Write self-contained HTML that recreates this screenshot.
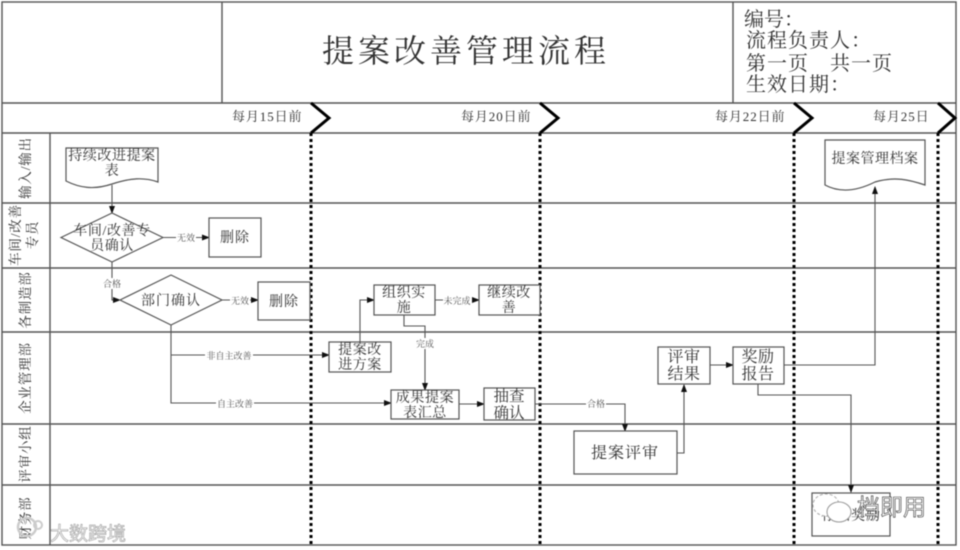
<!DOCTYPE html>
<html><head><meta charset="utf-8">
<style>
html,body{margin:0;padding:0;background:#fff;width:960px;height:550px;overflow:hidden}
svg{display:block;filter:blur(0.45px)}
text{font-family:"Liberation Serif","Noto Serif CJK SC",serif;fill:#333}
.c{text-anchor:middle}
.b{font-size:14px;letter-spacing:.6px}
.m{font-size:14px;letter-spacing:1px}
.l{font-size:16px;letter-spacing:1px}
.d{font-size:13px;letter-spacing:.9px}
.v{font-size:13.500px;letter-spacing:.8px}
.h{font-size:20px;letter-spacing:1px}
.s{font-size:9px;fill:#555}
.box{fill:#fff;stroke:#555;stroke-width:1.2}
.ln{fill:none;stroke:#555;stroke-width:1.1}
.gr{stroke:#555;stroke-width:1.4;fill:none}
.dot{stroke:#000;stroke-width:3;stroke-dasharray:3 3;fill:none}
.chev{stroke:#000;stroke-width:3;fill:none}
.lab{fill:#fff}
.wm{font-family:"Liberation Sans","Noto Sans CJK SC",sans-serif;fill:#fff;stroke:#888;stroke-width:.7}
</style></head><body>
<svg width="960" height="550" viewBox="0 0 960 550" xmlns="http://www.w3.org/2000/svg">
<defs><marker id="a" markerWidth="8" markerHeight="6" refX="7" refY="3" orient="auto" markerUnits="userSpaceOnUse"><path d="M0 0L8 3L0 6Z" fill="#111"/></marker></defs>
<rect width="960" height="550" fill="#fff"/>
<!-- grid -->
<rect class="gr" x="2" y="2" width="954" height="543"/>
<path class="gr" d="M222 2V103M733 2V103M2 103H956M2 133H956M2 203H956M2 268H956M2 332H956M2 424H956M2 485H956M50 133V545"/>
<path class="dot" d="M311 133V545M540 133V545M794 133V545M938 133V545"/>
<path class="chev" d="M311 103L329 118L311 133M540 103L558 118L540 133M794 103L812 118L794 133M938 103L955 118L938 133"/>
<!-- header -->
<text x="322" y="62" font-size="32" letter-spacing="4">提案改善管理流程</text>
<text x="744" y="26" style="font-size:20px">编号：</text>
<text x="746" y="47" class="h">流程负责人：</text>
<text x="746" y="70" class="h">第一页　共一页</text>
<text x="746" y="91" class="h">生效日期：</text>
<text x="232" y="121" class="d">每月15日前</text>
<text x="461" y="121" class="d">每月20日前</text>
<text x="715" y="121" class="d">每月22日前</text>
<text x="873" y="121" class="d">每月25日</text>
<!-- lane labels -->
<text transform="translate(30,168) rotate(-90)" class="c v">输入/输出</text>
<text transform="translate(20,235) rotate(-90)" class="c v">车间/改善</text>
<text transform="translate(37,235) rotate(-90)" class="c v">专员</text>
<text transform="translate(30,300) rotate(-90)" class="c v">各制造部</text>
<text transform="translate(30,378) rotate(-90)" class="c v">企业管理部</text>
<text transform="translate(30,454) rotate(-90)" class="c v">评审小组</text>
<text transform="translate(30,518) rotate(-90)" class="c v">财务部</text>
<!-- connectors -->
<path class="ln" d="M112 185V213" marker-end="url(#a)"/>
<path class="ln" d="M163 237.500H209" marker-end="url(#a)"/>
<path class="ln" d="M112 262V300H120" marker-end="url(#a)"/>
<path class="ln" d="M222 300H258" marker-end="url(#a)"/>
<path class="ln" d="M171 325V403H391" marker-end="url(#a)"/>
<path class="ln" d="M171 355H329" marker-end="url(#a)"/>
<path class="ln" d="M360 342V300H374" marker-end="url(#a)"/>
<path class="ln" d="M435 300H479" marker-end="url(#a)"/>
<path class="ln" d="M404 315V326H425V390" marker-end="url(#a)"/>
<path class="ln" d="M459 404H484" marker-end="url(#a)"/>
<path class="ln" d="M535 404H625V431" marker-end="url(#a)"/>
<path class="ln" d="M677 453H684V385" marker-end="url(#a)"/>
<path class="ln" d="M710 365H733" marker-end="url(#a)"/>
<path class="ln" d="M784 365H875V187" marker-end="url(#a)"/>
<path class="ln" d="M758 384V395H851V492" marker-end="url(#a)"/>
<!-- connector labels -->
<rect class="lab" x="176" y="232" width="20" height="11"/><text x="186" y="241" class="c s">无效</text>
<rect class="lab" x="102" y="278" width="20" height="11"/><text x="112" y="287" class="c s">合格</text>
<rect class="lab" x="230" y="295" width="20" height="11"/><text x="240" y="304" class="c s">无效</text>
<rect class="lab" x="205" y="350" width="48" height="11"/><text x="229" y="359" class="c s">非自主改善</text>
<rect class="lab" x="216" y="398" width="38" height="11"/><text x="235" y="407" class="c s">自主改善</text>
<rect class="lab" x="443" y="295" width="29" height="11"/><text x="457" y="304" class="c s">未完成</text>
<rect class="lab" x="415" y="338" width="20" height="11"/><text x="425" y="347" class="c s">完成</text>
<rect class="lab" x="586" y="399" width="20" height="11"/><text x="596" y="407" class="c s">合格</text>
<!-- nodes -->
<path class="box" d="M66 148H158V182C144 177 130 178 112 184C94 190 80 188 66 181Z"/>
<text x="112" y="160" class="c b">持续改进提案</text><text x="112" y="175" class="c b">表</text>
<path class="box" d="M61 237.500L112 213L163 237.500L112 262Z"/>
<text x="112" y="235" class="c b">车间/改善专</text><text x="112" y="250" class="c b">员确认</text>
<rect class="box" x="209" y="218" width="52" height="39"/><text x="235" y="242" class="c m">删除</text>
<path class="box" d="M120 300L171 275L222 300L171 325Z"/>
<text x="171" y="305" class="c m">部门确认</text>
<rect class="box" x="258" y="282" width="52" height="38"/><text x="284" y="306" class="c m">删除</text>
<rect class="box" x="329" y="342" width="62" height="30"/>
<text x="360" y="354" class="c b">提案改</text><text x="360" y="369" class="c b">进方案</text>
<rect class="box" x="374" y="285" width="61" height="30"/>
<text x="404" y="297" class="c b">组织实</text><text x="404" y="312" class="c b">施</text>
<rect class="box" x="479" y="285" width="61" height="30"/>
<text x="509" y="297" class="c b">继续改</text><text x="509" y="312" class="c b">善</text>
<rect class="box" x="391" y="390" width="68" height="29"/>
<text x="425" y="402" class="c b">成果提案</text><text x="425" y="417" class="c b">表汇总</text>
<rect class="box" x="484" y="388" width="51" height="32"/>
<text x="509" y="401" class="c" font-size="15.500">抽查</text><text x="509" y="418" class="c" font-size="15.500">确认</text>
<rect class="box" x="574" y="431" width="103" height="43"/>
<text x="625" y="458" class="c l">提案评审</text>
<rect class="box" x="658" y="347" width="52" height="37"/>
<text x="684" y="362" class="c l" style="letter-spacing:.5px">评审</text><text x="684" y="379" class="c l" style="letter-spacing:.5px">结果</text>
<rect class="box" x="733" y="347" width="51" height="37"/>
<text x="758" y="362" class="c l" style="letter-spacing:.5px">奖励</text><text x="758" y="379" class="c l" style="letter-spacing:.5px">报告</text>
<path class="box" d="M825 140H925V185C910 180 895 176 875 182C855 192 838 192 825 185Z"/>
<text x="875" y="163" class="c" style="font-size:14px;letter-spacing:.5px">提案管理档案</text>
<rect class="box" x="812" y="493" width="78" height="43"/>
<text x="851" y="520" class="c m">存档奖励</text>
<!-- watermarks -->
<ellipse cx="826" cy="505" rx="13" ry="11" fill="#fff" stroke="#aaa" stroke-dasharray="3 2"/>
<ellipse cx="839" cy="512" rx="12" ry="10" fill="#fff" stroke="#999"/>
<text x="857" y="515" font-size="23" class="wm" style="fill:#fff;stroke:#333;stroke-width:.6">档即用</text>
<circle cx="27" cy="527" r="9" fill="none" stroke="#ccc" stroke-width="2.500"/>
<circle cx="38" cy="525" r="4" fill="none" stroke="#ccc" stroke-width="2"/>
<text x="50" y="540" font-size="19" class="wm" style="stroke:#aaa">大数跨境</text>
</svg>
</body></html>
